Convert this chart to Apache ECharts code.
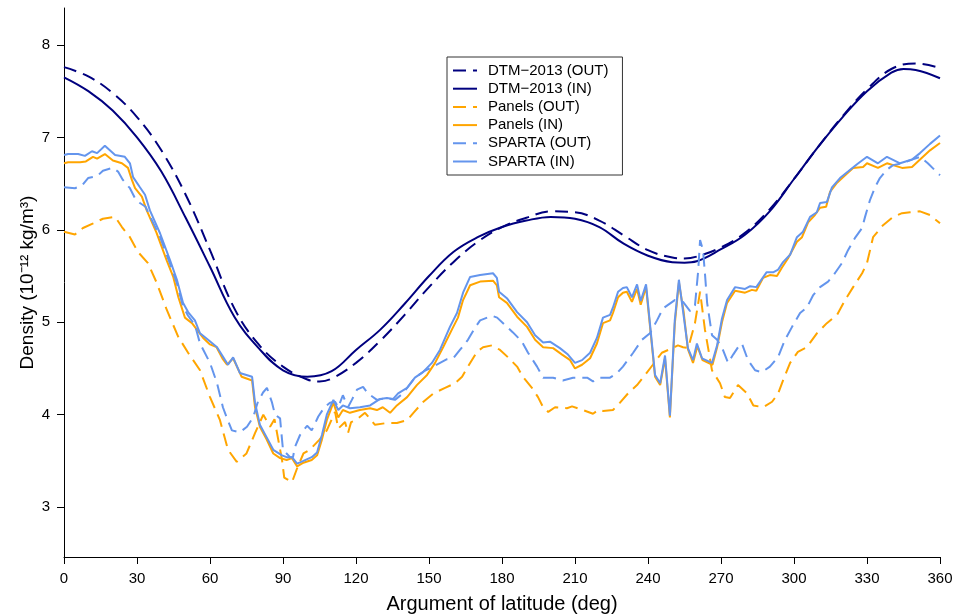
<!DOCTYPE html>
<html>
<head>
<meta charset="utf-8">
<script src="https://cdn.jsdelivr.net/npm/echarts@6/dist/echarts.min.js"></script>
<style>html,body{margin:0;padding:0;background:#fff}#c{width:957px;height:615px}</style>
</head>
<body>
<div id="c"></div>
<script>
// x ticks and y ticks
const xTicks = [0,30,60,90,120,150,180,210,240,270,300,330,360];
const yTicks = [3,4,5,6,7,8];
const seriesNames = ['DTM\u22122013 (OUT)','DTM\u22122013 (IN)','Panels (OUT)','Panels (IN)','SPARTA (OUT)','SPARTA (IN)'];

// [argument of latitude (deg), density (1e-12 kg/m^3)]
const dtmOut = [[0,7.76],[10,7.66],[20,7.48],[30,7.22],[40,6.86],[50,6.38],[60,5.78],[70,5.15],[80,4.76],[90,4.52],[100,4.38],[105,4.36],[110,4.39],[120,4.56],[130,4.80],[140,5.08],[150,5.38],[160,5.65],[170,5.87],[180,6.03],[190,6.13],[200,6.20],[210,6.19],[220,6.10],[230,5.94],[240,5.78],[250,5.70],[255,5.69],[260,5.71],[270,5.81],[280,5.97],[290,6.22],[300,6.55],[310,6.90],[320,7.23],[330,7.52],[340,7.74],[350,7.80],[360,7.75]];
const dtmIn = [[0,7.65],[10,7.50],[20,7.29],[30,7.00],[40,6.63],[50,6.13],[60,5.60],[70,5.06],[80,4.72],[90,4.48],[100,4.41],[110,4.47],[120,4.70],[130,4.92],[140,5.20],[150,5.50],[160,5.76],[170,5.92],[180,6.03],[190,6.10],[200,6.14],[210,6.12],[220,6.03],[230,5.85],[240,5.72],[250,5.65],[255,5.645],[260,5.66],[270,5.79],[280,5.95],[290,6.20],[300,6.55],[310,6.90],[320,7.22],[330,7.50],[340,7.70],[345,7.74],[350,7.73],[360,7.64]];
const panelsOut = [[0,5.98],[4.5,5.95],[7.8,6.02],[12,6.07],[16,6.12],[21,6.14],[23.8,6.03],[27.1,5.92],[30.4,5.76],[34.5,5.64],[38.2,5.42],[42.3,5.13],[47,4.84],[51,4.67],[55.9,4.48],[60,4.19],[64.1,3.94],[67.4,3.62],[71,3.49],[75,3.58],[78.5,3.80],[81.9,4.0],[84.7,3.87],[86.5,3.95],[89.6,3.51],[90.5,3.32],[93.7,3.27],[95.8,3.42],[98.4,3.58],[101,3.62],[105,3.73],[108,3.83],[111.4,4.03],[112.7,3.85],[115.5,3.92],[116.7,3.80],[118,3.92],[120,3.94],[123.7,4.02],[127.8,3.89],[132.7,3.91],[136.8,3.91],[141,3.94],[143.6,4.02],[147.7,4.14],[151.8,4.23],[156.6,4.29],[160.7,4.34],[163.6,4.41],[166,4.52],[169.7,4.68],[172.2,4.73],[175.9,4.75],[179.2,4.70],[182.5,4.62],[186.2,4.52],[188.6,4.41],[192.3,4.29],[194.8,4.19],[196.9,4.08],[199,4.03],[201.8,4.08],[206.7,4.07],[208.8,4.09],[213.3,4.05],[217.4,4.01],[219.5,4.05],[221.5,4.04],[225.6,4.05],[228.5,4.13],[231.8,4.23],[235.5,4.32],[238.8,4.43],[242,4.54],[245.7,4.67],[250,4.72],[252.3,4.75],[254.4,4.73],[256.5,4.72],[259.3,4.99],[261.4,5.33],[263.4,4.92],[266.3,4.48],[269.6,4.34],[271.6,4.19],[273.7,4.18],[277,4.32],[280.7,4.23],[283.3,4.10],[287.3,4.08],[291,4.14],[293.5,4.23],[295.5,4.37],[298.4,4.56],[301.6,4.68],[305.3,4.73],[309.4,4.88],[313.5,4.99],[317.7,5.08],[321,5.24],[324.3,5.38],[328,5.53],[330,5.64],[332.5,5.92],[336.6,6.05],[340.7,6.14],[344.4,6.18],[347.7,6.19],[351.8,6.20],[355.9,6.16],[360,6.07]];
const panelsIn = [[0,6.72],[1.7,6.73],[6.6,6.73],[9,6.74],[11.9,6.79],[13.6,6.77],[16.8,6.82],[20.1,6.75],[23.8,6.72],[26.3,6.67],[27.9,6.54],[29.2,6.45],[32,6.36],[34,6.21],[38,5.97],[42.2,5.67],[44.9,5.49],[47,5.27],[49.7,5.05],[52.6,4.99],[54.6,4.92],[57.2,4.83],[60,4.76],[62.7,4.73],[65.3,4.60],[67,4.54],[69.5,4.61],[73,4.41],[77.3,4.37],[78.5,4.08],[80.5,3.87],[83.3,3.73],[86,3.58],[88.8,3.53],[91.5,3.51],[93.7,3.53],[95.8,3.44],[98.4,3.48],[101.8,3.51],[104,3.56],[106,3.73],[108,3.94],[110.7,4.13],[112.7,3.97],[114.6,4.05],[117.5,4.02],[121.6,4.05],[125.8,4.07],[128.6,4.05],[131,4.08],[134,4.02],[136.8,4.10],[141,4.19],[145,4.32],[149.2,4.43],[152.5,4.56],[155.8,4.73],[159.4,4.92],[161.9,5.05],[164,5.24],[166.9,5.40],[171,5.44],[176.3,5.45],[177.9,5.40],[178.8,5.27],[182,5.21],[186.2,5.06],[190.3,4.95],[193.6,4.81],[196.9,4.73],[201,4.72],[204.7,4.65],[208,4.59],[210,4.50],[212.9,4.54],[216.2,4.61],[219,4.77],[221.5,4.99],[224.4,5.02],[225.6,5.10],[227.7,5.27],[229.7,5.32],[231.3,5.33],[233.4,5.22],[235.5,5.36],[237,5.19],[239.2,5.38],[242.9,4.41],[245,4.32],[247,4.61],[249,3.97],[251,4.98],[252.7,5.43],[254.6,5.12],[256.4,4.71],[258.5,4.56],[260.3,4.74],[262.4,4.59],[266.5,4.54],[268.4,4.73],[270.4,5.0],[272.5,5.21],[275.8,5.34],[279.9,5.32],[282.7,5.35],[284.5,5.34],[287.3,5.48],[290.1,5.51],[293,5.50],[295,5.59],[297.5,5.69],[301.2,5.87],[303.3,5.92],[305.8,6.08],[308.6,6.16],[310.7,6.24],[313.2,6.25],[314.8,6.41],[317.7,6.51],[321.8,6.61],[324.3,6.67],[328.4,6.68],[330,6.72],[334.5,6.67],[338.2,6.72],[344.4,6.67],[348.5,6.68],[351.8,6.76],[355.9,6.86],[360,6.94]];
const spartaOut = [[0,6.46],[4.5,6.45],[7.4,6.48],[9.9,6.56],[13.6,6.58],[16,6.64],[20,6.67],[22.2,6.63],[24.2,6.54],[27.1,6.45],[29.2,6.34],[31.2,6.29],[33.5,6.25],[35.3,6.15],[39.5,5.92],[43.6,5.63],[46.4,5.42],[48.9,5.17],[51,5.07],[53.8,4.97],[55.9,4.77],[60,4.56],[62.9,4.34],[65.3,4.08],[67,3.96],[69,3.83],[72.3,3.81],[75.2,3.87],[77.7,3.97],[79.7,4.14],[81.8,4.24],[83.4,4.29],[85.5,4.13],[86.7,4.0],[88.8,3.96],[89.6,3.73],[90,3.62],[92.9,3.54],[94.1,3.54],[94.9,3.65],[97,3.78],[99.9,3.88],[101.8,3.83],[104.5,3.98],[107,4.08],[109.3,4.13],[111.4,4.14],[112.7,4.08],[114.6,4.21],[116.7,4.08],[118.3,4.16],[120.4,4.27],[122.9,4.30],[124.9,4.23],[128.6,4.16],[132.7,4.18],[136,4.16],[139.3,4.23],[144.2,4.40],[148,4.47],[151.6,4.52],[157.4,4.60],[160,4.61],[162.7,4.70],[166,4.81],[168.9,4.94],[171,5.02],[175.9,5.07],[178,5.05],[181.2,4.97],[184.5,4.89],[188.2,4.79],[190.7,4.67],[194.4,4.52],[196.9,4.40],[201,4.40],[205,4.37],[209.2,4.40],[215,4.40],[217.4,4.36],[220.3,4.40],[224.4,4.40],[227.3,4.45],[229.7,4.52],[233.9,4.67],[237.5,4.81],[240.8,4.88],[243.7,5.02],[246.2,5.15],[251,5.24],[254.4,5.22],[257.3,5.12],[259.3,5.18],[260.6,5.55],[261.4,5.89],[262.6,5.78],[263.4,5.53],[264.3,5.21],[266.3,4.86],[268.4,4.81],[270.8,4.70],[272.9,4.56],[275,4.65],[277.5,4.75],[278.6,4.77],[281.1,4.59],[284,4.48],[286.8,4.46],[290.1,4.52],[293.4,4.62],[296.3,4.81],[299.2,4.95],[302.5,5.10],[305.3,5.16],[307.8,5.29],[310.7,5.38],[314,5.44],[316.8,5.53],[319.7,5.64],[322.2,5.78],[325,5.91],[328,6.02],[329.2,6.14],[331.2,6.32],[333.3,6.46],[335.3,6.56],[338.2,6.65],[340.7,6.70],[344.4,6.72],[348.5,6.76],[351.8,6.79],[355,6.72],[360,6.59]];
const spartaIn = [[0,6.81],[1.7,6.82],[5.8,6.82],[8.6,6.80],[11.5,6.85],[13.6,6.83],[16.8,6.91],[21,6.81],[25,6.79],[27.1,6.72],[28.4,6.57],[31.2,6.46],[33.3,6.38],[35.3,6.21],[39.5,5.96],[43.6,5.67],[46.4,5.46],[48.9,5.21],[51,5.11],[53.8,5.02],[55.9,4.88],[59.2,4.81],[62.9,4.73],[66.2,4.59],[67.4,4.54],[69.5,4.62],[72.3,4.45],[77.3,4.41],[78.5,4.13],[80.5,3.89],[83.8,3.73],[86,3.62],[89.6,3.56],[91.5,3.54],[93.7,3.54],[95.8,3.47],[98.4,3.50],[101.8,3.54],[104,3.59],[106,3.78],[108,4.0],[110.7,4.16],[112.7,4.05],[114.6,4.10],[117.5,4.07],[121.6,4.08],[125.8,4.10],[129.9,4.17],[132.7,4.18],[135.3,4.17],[137.3,4.23],[141,4.29],[144.2,4.40],[147.5,4.46],[151.2,4.56],[154.5,4.70],[158.6,4.95],[161.5,5.10],[164,5.32],[166.9,5.49],[171,5.51],[176.3,5.53],[177.9,5.48],[178.8,5.33],[182,5.26],[186.2,5.11],[190.3,5.0],[193.6,4.86],[196.9,4.78],[199.7,4.79],[203.8,4.72],[207.1,4.65],[210,4.56],[212.9,4.59],[216.2,4.67],[219,4.83],[221.5,5.05],[224.4,5.08],[225.6,5.16],[227.7,5.33],[229.7,5.37],[231.3,5.38],[233.4,5.27],[235.5,5.41],[237,5.23],[239.2,5.41],[242.9,4.43],[245,4.34],[247,4.64],[249,3.99],[251,5.02],[252.7,5.46],[254.4,5.12],[256.4,4.72],[258.5,4.59],[260.1,4.77],[262.2,4.61],[266.3,4.56],[268.4,4.75],[270.4,5.04],[272.5,5.24],[275.8,5.38],[279.9,5.36],[282,5.39],[284.5,5.38],[288.7,5.54],[291.4,5.54],[293.5,5.57],[295.5,5.65],[298.4,5.73],[301.2,5.92],[303.7,5.98],[306.6,6.14],[309.4,6.19],[310.7,6.29],[313.5,6.30],[315.6,6.46],[318.9,6.56],[322.2,6.63],[325.9,6.71],[330,6.79],[334.5,6.72],[338.2,6.79],[343.6,6.72],[348.5,6.76],[351.8,6.83],[355.9,6.93],[360,7.02]];

const NAVY = '#00007F', ORANGE = '#FFA500', BLUE = '#6495ED';
const DASH = [13, 7];

function mk(name, data, color, dashed, smooth) {
  return {
    name, type: 'line', data, symbol: 'none', smooth: smooth ? 0.4 : false,
    lineStyle: { color, width: 2, type: dashed ? DASH : 'solid' },
    itemStyle: { color },
    z: 2
  };
}

const chart = echarts.init(document.getElementById('c'), null, { renderer: 'canvas' });
chart.setOption({
  animation: false,
  backgroundColor: '#fff',
  grid: { left: 64, right: 17, top: 8, bottom: 58, outerBoundsMode: 'none', containLabel: false },
  legend: {
    orient: 'vertical', left: 447, top: 57,
    data: seriesNames,
    itemWidth: 24, itemHeight: 14, itemGap: 3.2,
    padding: [6, 14, 6, 5],
    borderColor: '#333', borderWidth: 1, borderRadius: 0,
    itemStyle: { opacity: 0 },
    lineStyle: { width: 2 },
    textStyle: { fontFamily: 'Liberation Sans, Arial, sans-serif', fontSize: 15, color: '#000', padding: [0, 0, 0, 6] }
  },
  xAxis: {
    type: 'value', min: 0, max: 360, interval: 30,
    name: 'Argument of latitude (deg)', nameLocation: 'middle', nameGap: 37,
    nameTextStyle: { fontFamily: 'Liberation Sans Narrow, Liberation Sans, Arial, sans-serif', fontSize: 20, color: '#000' },
    axisLine: { show: true, onZero: false, lineStyle: { color: '#000', width: 1 } },
    axisTick: { show: true, inside: false, length: 7, lineStyle: { color: '#000' }, customValues: xTicks },
    axisLabel: { color: '#000', fontSize: 15, margin: 14, fontFamily: 'Liberation Sans Narrow, Liberation Sans, Arial, sans-serif', customValues: xTicks },
    splitLine: { show: false }
  },
  yAxis: {
    type: 'value', min: 2.46, max: 8.4,
    name: 'Density (10\u207B\u00B9\u00B2 kg/m\u00B3)', nameLocation: 'middle', nameGap: 27, nameRotate: 90,
    nameMoveOverlap: false,
    nameTextStyle: { fontFamily: 'Liberation Sans, Arial, sans-serif', fontSize: 19, color: '#000' },
    axisLine: { show: true, onZero: false, lineStyle: { color: '#000', width: 1 } },
    axisTick: { show: true, length: 7, lineStyle: { color: '#000' }, customValues: yTicks },
    axisLabel: { color: '#000', fontSize: 15, margin: 14, fontFamily: 'Liberation Sans, Arial, sans-serif', customValues: yTicks },
    splitLine: { show: false }
  },
  series: [
    mk(seriesNames[0], dtmOut, NAVY, true, true),
    mk(seriesNames[1], dtmIn, NAVY, false, true),
    mk(seriesNames[2], panelsOut, ORANGE, true, false),
    mk(seriesNames[3], panelsIn, ORANGE, false, false),
    mk(seriesNames[4], spartaOut, BLUE, true, false),
    mk(seriesNames[5], spartaIn, BLUE, false, false)
  ]
});
</script>
</body>
</html>
